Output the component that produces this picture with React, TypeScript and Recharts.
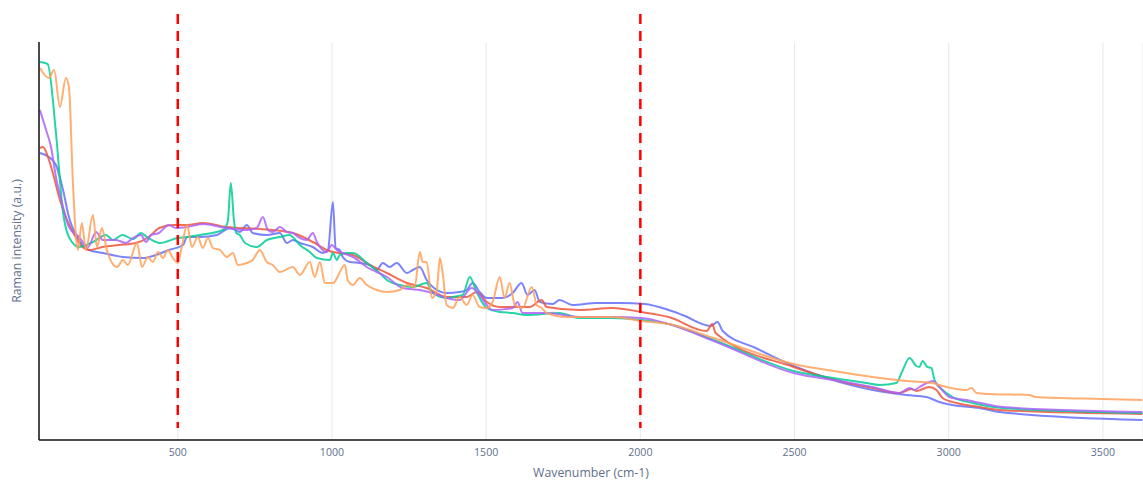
import { LineChart, Line, XAxis, YAxis, CartesianGrid, ReferenceLine } from 'recharts'

// Raman spectra, [wavenumber (cm-1), intensity (a.u.)]
const spectrumA: [number, number][] = [
    [53, 287], [82, 283], [105, 275], [128, 250], [147, 223], [180, 200], [212, 190], [257, 187],
    [322, 183], [387, 182], [429, 185], [471, 190], [517, 195], [530, 203], [572, 203], [627, 205],
    [669, 212], [701, 208], [724, 215], [743, 207], [789, 205], [831, 207], [854, 197], [873, 200],
    [896, 197], [938, 193], [970, 187], [987, 190], [1003, 238], [1012, 192], [1025, 190], [1035, 183],
    [1058, 178], [1090, 177], [1123, 175], [1145, 170], [1165, 177], [1187, 173], [1210, 177], [1243, 167],
    [1262, 170], [1285, 173], [1307, 160], [1327, 153], [1372, 147], [1414, 148], [1437, 150], [1456, 157],
    [1479, 148], [1502, 142], [1554, 142], [1586, 147], [1615, 157], [1634, 145], [1657, 150], [1674, 138],
    [1716, 136], [1738, 140], [1780, 135], [1858, 137], [1936, 137], [2014, 136], [2092, 130], [2137, 125],
    [2228, 114], [2250, 118], [2267, 109], [2374, 92], [2497, 74], [2646, 58], [2753, 50], [2863, 45],
    [2928, 43], [2970, 38], [3012, 35], [3100, 32], [3164, 28], [3628, 20]
]

const spectrumB: [number, number][] = [
    [53, 292], [63, 293], [79, 283], [95, 267], [115, 243], [137, 223], [160, 208], [180, 197],
    [212, 190], [257, 193], [309, 195], [364, 197], [406, 203], [440, 212], [484, 215], [530, 215],
    [581, 217], [659, 213], [766, 211], [873, 207], [938, 198], [983, 190], [1003, 188], [1025, 187],
    [1068, 185], [1123, 175], [1178, 167], [1243, 157], [1307, 152], [1372, 143], [1437, 143], [1469, 148],
    [1502, 138], [1544, 133], [1641, 133], [1680, 140], [1696, 133], [1803, 130], [1910, 132], [2003, 128],
    [2092, 123], [2215, 109], [2233, 116], [2244, 107], [2497, 73], [2646, 59], [2753, 52], [2840, 47],
    [2879, 51], [2895, 49], [2937, 53], [2960, 50], [2980, 42], [3025, 37], [3100, 33], [3164, 30],
    [3628, 26]
]

const spectrumC: [number, number][] = [
    [53, 378], [78, 376], [105, 307], [127, 230], [147, 203], [180, 193], [225, 198], [267, 205],
    [290, 200], [320, 205], [355, 201], [381, 207], [400, 203], [442, 197], [500, 202], [530, 203],
    [572, 205], [646, 210], [662, 218], [672, 257], [682, 220], [690, 207], [701, 205], [718, 197],
    [756, 193], [789, 200], [831, 203], [863, 205], [873, 203], [896, 195], [928, 188], [951, 182],
    [993, 180], [1003, 187], [1016, 180], [1025, 185], [1048, 187], [1068, 187], [1113, 177], [1155, 167],
    [1178, 160], [1220, 155], [1262, 153], [1307, 157], [1327, 147], [1372, 142], [1392, 143], [1424, 145],
    [1447, 163], [1469, 148], [1502, 132], [1544, 128], [1586, 127], [1631, 125], [1738, 127], [1803, 122],
    [1910, 122], [2003, 120], [2092, 116], [2238, 100], [2497, 69], [2646, 61], [2733, 57], [2775, 55],
    [2830, 57], [2847, 67], [2873, 82], [2895, 74], [2905, 73], [2915, 79], [2931, 73], [2944, 72],
    [2954, 60], [2980, 50], [3012, 43], [3077, 37], [3174, 32], [3628, 27]
]

const spectrumD: [number, number][] = [
    [53, 330], [73, 310], [89, 293], [105, 263], [128, 233], [147, 213], [180, 203], [209, 193],
    [235, 208], [257, 200], [300, 200], [332, 197], [355, 202], [381, 205], [397, 198], [413, 205],
    [439, 207], [471, 215], [494, 212], [530, 213], [581, 216], [659, 212], [724, 210], [756, 212],
    [776, 223], [792, 210], [808, 208], [831, 213], [854, 208], [873, 207], [896, 202], [918, 200],
    [938, 207], [951, 198], [983, 188], [999, 195], [1016, 190], [1035, 187], [1068, 183], [1113, 173],
    [1178, 163], [1230, 152], [1285, 150], [1327, 147], [1372, 142], [1414, 140], [1453, 152], [1479, 145],
    [1502, 135], [1521, 130], [1586, 132], [1602, 138], [1618, 127], [1696, 127], [1803, 123], [1910, 123],
    [2003, 122], [2092, 116], [2238, 99], [2497, 67], [2646, 59], [2753, 53], [2840, 47], [2873, 52],
    [2889, 50], [2905, 53], [2937, 58], [2947, 59], [2970, 53], [3002, 43], [3057, 40], [3174, 33],
    [3628, 28]
]

const spectrumE: [number, number][] = [
    [53, 372], [82, 362], [99, 370], [118, 333], [137, 362], [147, 353], [160, 257], [170, 203],
    [176, 190], [189, 217], [202, 190], [225, 225], [238, 193], [254, 212], [270, 190], [287, 177],
    [303, 173], [322, 180], [338, 175], [368, 197], [384, 173], [403, 183], [419, 178], [436, 188],
    [452, 182], [468, 190], [484, 182], [500, 177], [513, 193], [530, 215], [546, 193], [565, 203],
    [581, 192], [598, 202], [614, 192], [637, 190], [659, 183], [679, 187], [695, 175], [724, 177],
    [743, 180], [766, 190], [789, 178], [808, 175], [831, 168], [873, 173], [896, 165], [928, 178],
    [944, 163], [961, 178], [977, 157], [1003, 157], [1042, 175], [1051, 160], [1068, 155], [1090, 162],
    [1113, 155], [1145, 150], [1178, 148], [1220, 150], [1243, 155], [1268, 153], [1285, 188], [1294, 178],
    [1307, 178], [1324, 142], [1340, 150], [1350, 182], [1359, 167], [1372, 135], [1392, 132], [1414, 143],
    [1437, 135], [1456, 145], [1479, 133], [1502, 132], [1521, 138], [1544, 163], [1560, 142], [1576, 157],
    [1593, 135], [1618, 132], [1648, 153], [1664, 135], [1680, 132], [1696, 127], [1761, 123], [1910, 123],
    [2003, 119], [2092, 116], [2238, 102], [2497, 76], [2646, 68], [2753, 63], [2863, 59], [2947, 57],
    [2980, 54], [3057, 50], [3074, 52], [3090, 47], [3132, 46], [3262, 45], [3281, 43], [3498, 41],
    [3628, 40]
]

const spectra = [spectrumA, spectrumB, spectrumC, spectrumD, spectrumE]
const colors = ['#636efa', '#EF553B', '#00cc96', '#ab63fa', '#FFA15A']

const xTicks = [500, 1000, 1500, 2000, 2500, 3000, 3500]
const yTicks = [55, 123, 191, 260, 328, 396]
// region boundaries marked with dashed lines
const markers = [500, 2000]

const font = '"Open Sans", verdana, arial, sans-serif'
const textColor = '#5f6f8c'

const YTitle = ({ viewBox }: any) => {
    const cx = viewBox.x + 16
    const cy = viewBox.y + viewBox.height / 2
    return (
        <text
            x={cx}
            y={cy}
            transform={`rotate(-90 ${cx} ${cy})`}
            textAnchor="middle"
            dominantBaseline="central"
            fill={textColor}
            fontSize={12.3}
            fontFamily={font}
        >
            Raman intensity (a.u.)
        </text>
    )
}

export default function App() {
    const series = spectra.map(s => s.map(([wn, v]) => ({ wn, v })))

    return (
        <div style={{ position: 'absolute', left: 0, top: 0, background: '#fff' }}>
            <LineChart width={1143} height={481} margin={{ top: 42, right: 0, bottom: 0, left: 0 }}>
                <CartesianGrid horizontal={false} stroke="#e8e8e8" strokeWidth={1} />
                <CartesianGrid vertical={false} stroke="#fff" strokeWidth={2} />
                <XAxis
                    type="number"
                    dataKey="wn"
                    domain={[50, 3630]}
                    allowDataOverflow
                    ticks={xTicks}
                    height={41}
                    tickLine={false}
                    axisLine={{ stroke: '#111', strokeWidth: 1.5 }}
                    tick={{ fill: textColor, fontSize: 10.6, fontFamily: font }}
                    label={{
                        value: 'Wavenumber (cm-1)',
                        position: 'insideBottom',
                        offset: 4,
                        fill: textColor,
                        fontSize: 12.3,
                        fontFamily: font
                    }}
                />
                <YAxis
                    type="number"
                    domain={[0, 398]}
                    allowDataOverflow
                    ticks={yTicks}
                    width={39}
                    tick={false}
                    tickLine={false}
                    axisLine={{ stroke: '#111', strokeWidth: 1.5 }}
                    label={{ content: YTitle }}
                />
                {series.map((data, i) => (
                    <Line
                        key={i}
                        data={data}
                        dataKey="v"
                        type="monotone"
                        stroke={colors[i]}
                        strokeWidth={2}
                        strokeOpacity={0.85}
                        dot={false}
                        activeDot={false}
                        isAnimationActive={false}
                    />
                ))}
                {markers.map(x => (
                    <ReferenceLine
                        key={x}
                        segment={[{ x, y: 426 }, { x, y: 12 }]}
                        ifOverflow="visible"
                        stroke="red"
                        strokeWidth={2.5}
                        strokeDasharray="10 7"
                    />
                ))}
            </LineChart>
        </div>
    )
}
